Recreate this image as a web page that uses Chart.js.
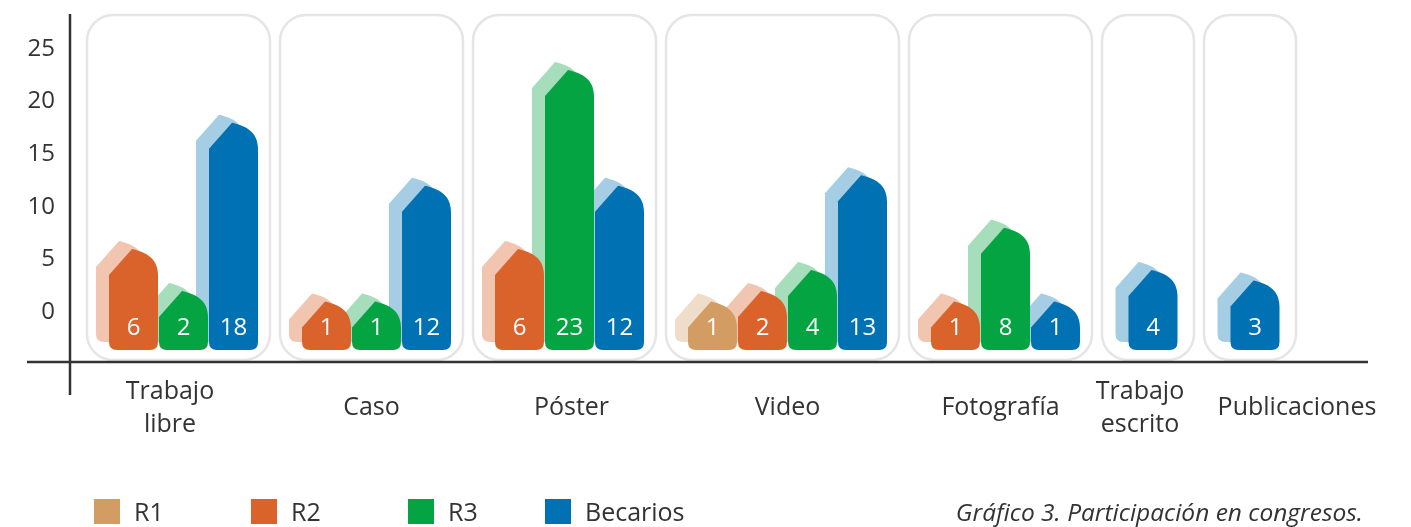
<!DOCTYPE html>
<html>
<head>
<meta charset="utf-8">
<script src="https://cdn.jsdelivr.net/npm/chart.js@4.4.0/dist/chart.umd.min.js"></script>
<style>
  body { margin: 0; background: #fff; }
  #wrap { position: relative; width: 1411px; height: 527px; font-family: "Open Sans", sans-serif; color: #333; }
  #legend .box { position: absolute; top: 499px; width: 26px; height: 25px; }
  #legend .txt { position: absolute; top: 493px; font-size: 25px; line-height: 36px; white-space: nowrap; }
  #caption { position: absolute; right: 48px; top: 494px; font-size: 24.5px; line-height: 36px; font-style: italic; white-space: nowrap; }
</style>
</head>
<body>
<div id="wrap">
  <canvas id="chart" width="1411" height="527"></canvas>
  <div id="legend"></div>
  <div id="caption">Gráfico 3. Participación en congresos.</div>
</div>
<script>
// data
const categories = [['Trabajo', 'libre'], 'Caso', 'Póster', 'Video', 'Fotografía', ['Trabajo', 'escrito'], 'Publicaciones'];
const seriesNames = ['R1', 'R2', 'R3', 'Becarios'];
const r1 = [null, null, null, 1, null, null, null];
const r2 = [6, 1, 6, 2, 1, null, null];
const r3 = [2, 1, 23, 4, 8, null, null];
const becarios = [18, 12, 12, 13, 1, 4, 3];
const yTicks = [0, 5, 10, 15, 20, 25];

const series = [r1, r2, r3, becarios];
const colors = ['#d39c63', '#da632b', '#05a443', '#0071b3'];
const shadowColors = ['#efdcc9', '#f1c5b0', '#a6ddbb', '#a5cde3'];

// layout (x in bar-slot units)
const X_START = 0.34, PANEL_PAD = 0.66, PANEL_PAD_SINGLE = 0.84, PANEL_GAP = 0.2, BAR_SHIFT = 0.1;
const labelShift = [-0.17, 0, 0.14, 0.1, 0, -0.16, 0.94];
const BAR_BASE = -3.61;

const panels = [];
const points = series.map(() => []);
let cursor = X_START;
categories.forEach((c, i) => {
  const present = series.map((s, k) => k).filter(k => series[k][i] != null);
  const pad = present.length === 1 ? PANEL_PAD_SINGLE : PANEL_PAD;
  const start = cursor, end = cursor + present.length + pad;
  present.forEach((k, j) => {
    points[k].push({ x: start + pad / 2 + 0.5 + j + BAR_SHIFT, y: series[k][i] });
  });
  panels.push({ start, end });
  cursor = end + PANEL_GAP;
});

// legend
const legend = document.getElementById('legend');
const legendX = [94, 251, 408, 545];
seriesNames.forEach((n, k) => {
  const b = document.createElement('div');
  b.className = 'box';
  b.style.left = legendX[k] + 'px';
  b.style.background = colors[k];
  const t = document.createElement('div');
  t.className = 'txt';
  t.style.left = (legendX[k] + 40) + 'px';
  t.textContent = n;
  legend.appendChild(b);
  legend.appendChild(t);
});

function housePath(ctx, L, R, T, B) {
  const w = R - L, r = 8;
  const px = L + w * 0.47;
  ctx.beginPath();
  ctx.moveTo(L, B - r);
  ctx.lineTo(L, T + w * 0.53);
  ctx.lineTo(px, T);
  ctx.bezierCurveTo(px + w * 0.25, T + w * 0.06, R, T + w * 0.16, R, T + w * 0.55);
  ctx.lineTo(R, B - r);
  ctx.quadraticCurveTo(R, B, R - r, B);
  ctx.lineTo(L + r, B);
  ctx.quadraticCurveTo(L, B, L, B - r);
  ctx.closePath();
}

const drawPlugin = {
  id: 'drawPlugin',
  beforeDatasetsDraw(chart) {
    const { ctx, chartArea, scales: { x } } = chart;
    ctx.save();
    // panels
    ctx.strokeStyle = '#e5e5e5';
    ctx.lineWidth = 2.5;
    panels.forEach(p => {
      const l = x.getPixelForValue(p.start), r = x.getPixelForValue(p.end);
      ctx.beginPath();
      ctx.roundRect(l, chartArea.top + 1, r - l, chartArea.bottom - chartArea.top - 3, 26);
      ctx.stroke();
    });
    // axes
    ctx.strokeStyle = '#333';
    ctx.lineWidth = 2.5;
    ctx.beginPath();
    ctx.moveTo(chartArea.left, chartArea.top);
    ctx.lineTo(chartArea.left, chartArea.bottom + 33);
    ctx.moveTo(chartArea.left - 43, chartArea.bottom);
    ctx.lineTo(chartArea.right, chartArea.bottom);
    ctx.stroke();

    const metas = chart.data.datasets.map((d, i) => chart.getDatasetMeta(i));
    // shadows first, then bars
    metas.forEach((m, i) => {
      ctx.fillStyle = shadowColors[i];
      m.data.forEach(el => {
        const w = el.width;
        housePath(ctx, el.x - w / 2 - 13, el.x + w / 2 - 13, el.y - 8, el.base - 8);
        ctx.fill();
      });
    });
    metas.forEach((m, i) => {
      ctx.fillStyle = colors[i];
      m.data.forEach(el => {
        const w = el.width;
        housePath(ctx, el.x - w / 2, el.x + w / 2, el.y, el.base);
        ctx.fill();
      });
    });
    // value labels
    ctx.fillStyle = '#fff';
    ctx.font = '24px "Open Sans", sans-serif';
    ctx.textAlign = 'center';
    ctx.textBaseline = 'middle';
    metas.forEach((m, i) => {
      m.data.forEach((el, j) => {
        ctx.fillText(String(points[i][j].y), el.x, el.base - 22);
      });
    });
    ctx.restore();
  },
  beforeDatasetDraw() {
    return false;
  }
};

Chart.defaults.font.family = '"Open Sans", sans-serif';
Chart.defaults.color = '#333';

new Chart(document.getElementById('chart'), {
  type: 'bar',
  data: {
    datasets: seriesNames.map((n, k) => ({
      label: n,
      data: points[k],
      backgroundColor: colors[k],
      grouped: false,
      barThickness: 49,
      base: BAR_BASE
    }))
  },
  options: {
    responsive: false,
    animation: false,
    events: [],
    layout: { padding: { top: 14, right: 43, left: 0, bottom: 0 } },
    plugins: { legend: { display: false }, tooltip: { enabled: false } },
    scales: {
      x: {
        type: 'linear',
        min: 0,
        max: 25.96,
        offset: false,
        grid: { display: false, drawTicks: false },
        border: { display: false },
        afterBuildTicks: s => {
          s.ticks = panels.map((p, i) => ({ value: (p.start + p.end) / 2 + labelShift[i] }));
        },
        afterFit: s => {
          s.height = 165;
          s.paddingLeft = 0;
          s.paddingRight = 0;
        },
        ticks: {
          autoSkip: false,
          maxRotation: 0,
          minRotation: 0,
          crossAlign: 'center',
          padding: 30,
          color: '#333',
          font: { size: 25, lineHeight: 1.3 },
          callback: (v, i) => categories[i]
        }
      },
      y: {
        min: -4.75,
        max: 28.33,
        grid: { display: false, drawTicks: false },
        border: { display: false },
        afterBuildTicks: s => {
          s.ticks = yTicks.map(v => ({ value: v }));
        },
        afterFit: s => {
          s.width = 70;
          s.paddingTop = 0;
          s.paddingBottom = 0;
        },
        ticks: {
          padding: 15,
          color: '#333',
          font: { size: 24 }
        }
      }
    }
  },
  plugins: [drawPlugin]
});
</script>
</body>
</html>
